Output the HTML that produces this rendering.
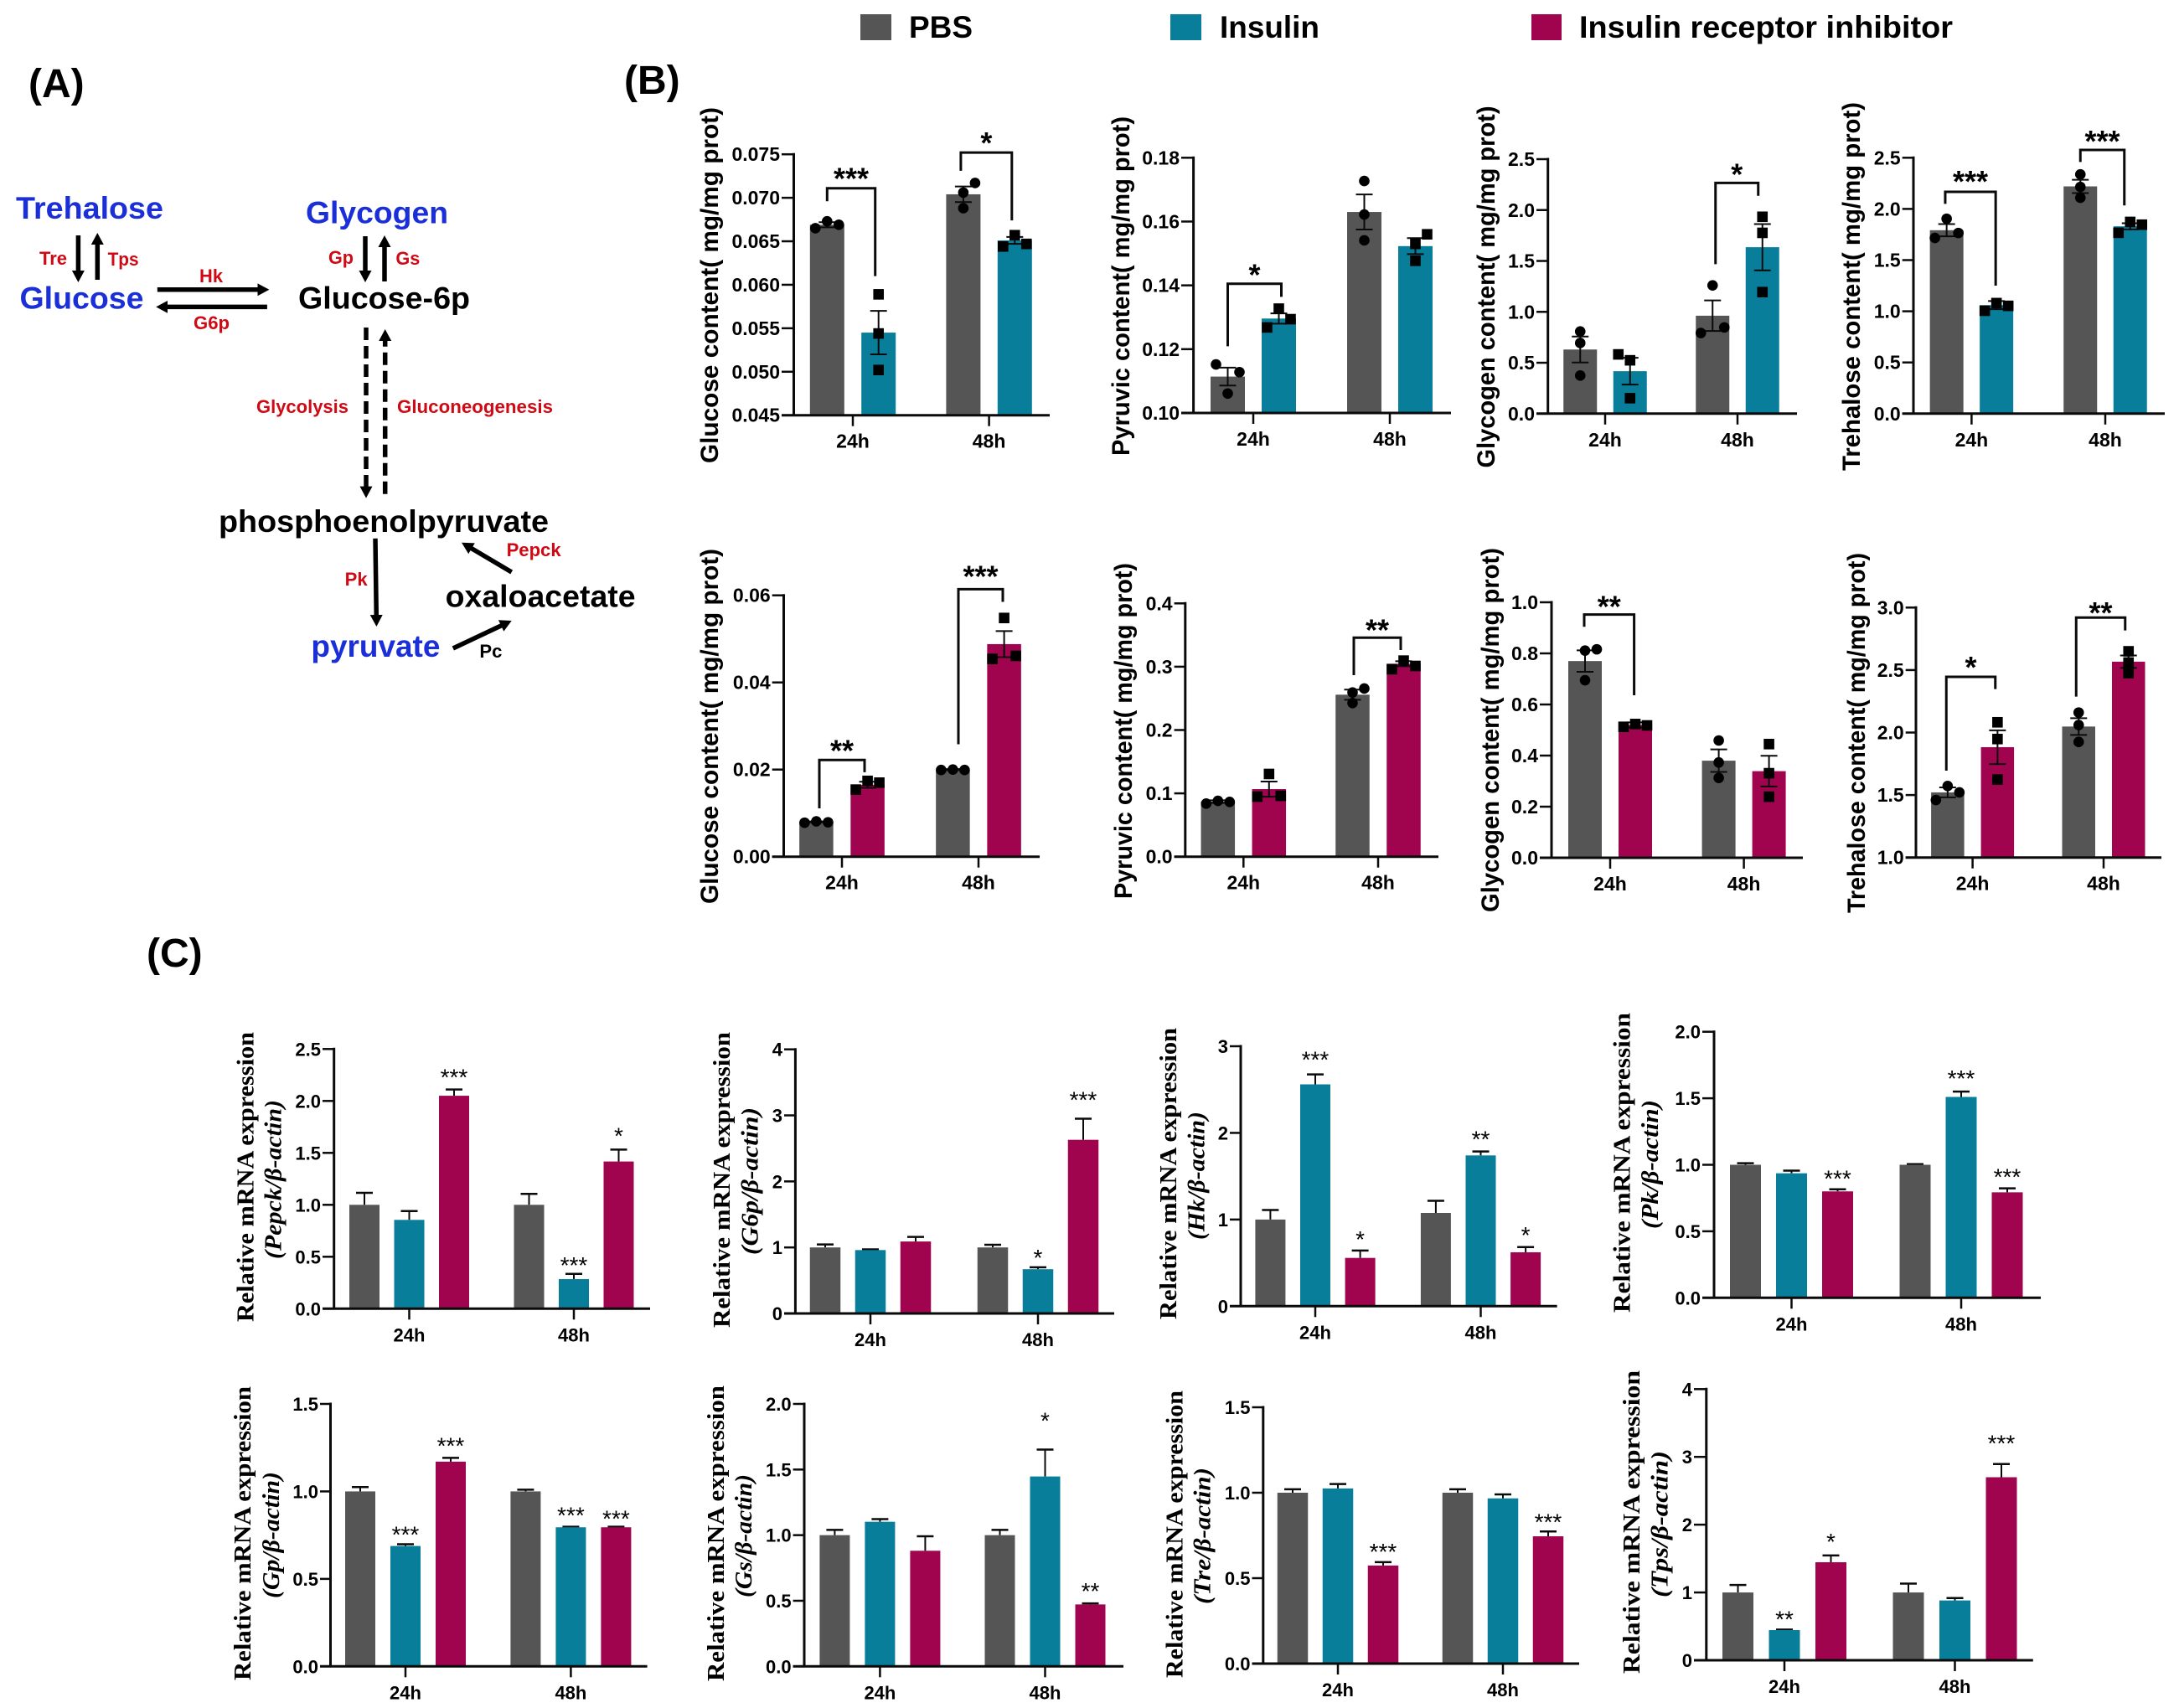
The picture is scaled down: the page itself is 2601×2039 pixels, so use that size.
<!DOCTYPE html>
<html lang="en">
<head>
<meta charset="utf-8">
<title>Glucose metabolism pathway and insulin signalling results</title>
<style>
html,body{margin:0;padding:0;background:#fff;}
svg{display:block;}
text{font-family:"Liberation Sans","Noto Sans CJK SC",sans-serif;font-weight:700;}
.serif{font-family:"Liberation Serif","Noto Serif CJK SC",serif;}
.blue{fill:#1a2fd8;font-size:37px;}
.blk{fill:#000;font-size:37px;}
.red{fill:#cf0a14;font-size:22px;}
.arrow{stroke:#000;stroke-width:5.5;fill:none;marker-end:url(#arrow-head);}
.dash{stroke-dasharray:15 7;}
</style>
</head>
<body>
<svg id="figure" xmlns="http://www.w3.org/2000/svg" width="2601" height="2039" viewBox="0 0 2601 2039">
<defs>
<marker id="arrow-head" markerUnits="userSpaceOnUse" markerWidth="18" markerHeight="18" refX="4" refY="8" orient="auto">
<path d="M0,0.5 L14,8 L0,15.5 Z" fill="#000"/>
</marker>
</defs>
<rect width="2601" height="2039" fill="#fff"/>

<g>
<rect x="1027" y="17" width="37" height="31" fill="#555555"/>
<text x="1085" y="45" font-size="37" textLength="76" lengthAdjust="spacingAndGlyphs">PBS</text>
<rect x="1397" y="17" width="37" height="31" fill="#087e9a"/>
<text x="1456" y="45" font-size="37" textLength="119" lengthAdjust="spacingAndGlyphs">Insulin</text>
<rect x="1828" y="17" width="36" height="31" fill="#a0044f"/>
<text x="1885" y="45" font-size="37" textLength="446" lengthAdjust="spacingAndGlyphs">Insulin receptor inhibitor</text>
</g>

<text x="34" y="116" font-size="48">(A)</text>
<text x="745" y="112" font-size="48">(B)</text>
<text x="175" y="1154" font-size="48">(C)</text>

<g>
<text class="blue" x="19" y="261" textLength="176" lengthAdjust="spacingAndGlyphs">Trehalose</text>
<text class="blue" x="23.5" y="368.6" textLength="148" lengthAdjust="spacingAndGlyphs">Glucose</text>
<text class="blue" x="365" y="266.7" textLength="170" lengthAdjust="spacingAndGlyphs">Glycogen</text>
<text class="blk" x="356" y="368.6" textLength="205" lengthAdjust="spacingAndGlyphs">Glucose-6p</text>
<text class="blk" x="261" y="635" textLength="394" lengthAdjust="spacingAndGlyphs">phosphoenolpyruvate</text>
<text class="blk" x="531.6" y="724.6" textLength="227" lengthAdjust="spacingAndGlyphs">oxaloacetate</text>
<text class="blue" x="371.4" y="784" textLength="154" lengthAdjust="spacingAndGlyphs">pyruvate</text>

<text class="red" x="47" y="316" textLength="33" lengthAdjust="spacingAndGlyphs">Tre</text>
<text class="red" x="128.6" y="317" textLength="37" lengthAdjust="spacingAndGlyphs">Tps</text>
<text class="red" x="238" y="337" textLength="28" lengthAdjust="spacingAndGlyphs">Hk</text>
<text class="red" x="231" y="393" textLength="43" lengthAdjust="spacingAndGlyphs">G6p</text>
<text class="red" x="392" y="315" textLength="30" lengthAdjust="spacingAndGlyphs">Gp</text>
<text class="red" x="472.4" y="316" textLength="29" lengthAdjust="spacingAndGlyphs">Gs</text>
<text class="red" x="306" y="493" textLength="110" lengthAdjust="spacingAndGlyphs">Glycolysis</text>
<text class="red" x="474" y="493" textLength="186" lengthAdjust="spacingAndGlyphs">Gluconeogenesis</text>
<text class="red" x="604.6" y="664" textLength="65" lengthAdjust="spacingAndGlyphs">Pepck</text>
<text class="red" x="411.7" y="699" textLength="27" lengthAdjust="spacingAndGlyphs">Pk</text>
<text x="572.4" y="785" font-size="22" textLength="27" lengthAdjust="spacingAndGlyphs">Pc</text>

<line class="arrow" x1="93.4" y1="281" x2="93.4" y2="327"/>
<line class="arrow" x1="116.3" y1="334" x2="116.3" y2="288"/>
<line class="arrow" x1="187.8" y1="345.8" x2="311.4" y2="345.8"/>
<line class="arrow" x1="318.9" y1="366.4" x2="196.2" y2="366.4"/>
<line class="arrow" x1="436" y1="282" x2="436" y2="327"/>
<line class="arrow" x1="459" y1="336" x2="459" y2="291"/>
<line class="arrow dash" x1="437" y1="391" x2="437" y2="584.6"/>
<line class="arrow dash" x1="459.7" y1="589.7" x2="459.7" y2="403"/>
<line class="arrow" x1="448" y1="642.8" x2="449.3" y2="738"/>
<line class="arrow" x1="610.7" y1="683" x2="559.6" y2="652.8"/>
<line class="arrow" x1="540.8" y1="774" x2="601.7" y2="745.3"/>
</g>

<g id="charts"></g>
</svg>

<script>
// ---------- shared categories ----------
const categories = ['24h', '48h'];

// ---------- Panel B, top row (PBS vs Insulin) ----------
const bGluInsTicks = ['0.045', '0.050', '0.055', '0.060', '0.065', '0.070', '0.075'];
const bGluInsPbs = [0.0669, 0.0704];
const bGluInsTreat = [0.0545, 0.0651];
const bGluInsPbsErr = [0.0003, 0.0009];
const bGluInsTreatErr = [0.0025, 0.0004];
const bGluInsPbsPts = [[0.0673, 0.0669, 0.0665], [0.0717, 0.0706, 0.0688]];
const bGluInsTreatPts = [[0.0589, 0.0544, 0.0502], [0.0657, 0.0647, 0.0644]];

const bPyrInsTicks = ['0.10', '0.12', '0.14', '0.16', '0.18'];
const bPyrInsPbs = [0.1114, 0.163];
const bPyrInsTreat = [0.1296, 0.1523];
const bPyrInsPbsErr = [0.0028, 0.0055];
const bPyrInsTreatErr = [0.0016, 0.0025];
const bPyrInsPbsPts = [[0.1152, 0.1128, 0.1061], [0.1727, 0.1622, 0.1541]];
const bPyrInsTreatPts = [[0.1327, 0.1294, 0.1268], [0.156, 0.153, 0.1477]];

const bGlyInsTicks = ['0.0', '0.5', '1.0', '1.5', '2.0', '2.5'];
const bGlyInsPbs = [0.63, 0.962];
const bGlyInsTreat = [0.417, 1.635];
const bGlyInsPbsErr = [0.128, 0.15];
const bGlyInsTreatErr = [0.132, 0.227];
const bGlyInsPbsPts = [[0.807, 0.694, 0.374], [1.26, 0.847, 0.792]];
const bGlyInsTreatPts = [[0.582, 0.524, 0.152], [1.934, 1.776, 1.194]];

const bTreInsTicks = ['0.0', '0.5', '1.0', '1.5', '2.0', '2.5'];
const bTreInsPbs = [1.792, 2.22];
const bTreInsTreat = [1.06, 1.83];
const bTreInsPbsErr = [0.06, 0.065];
const bTreInsTreatErr = [0.04, 0.03];
const bTreInsPbsPts = [[1.904, 1.765, 1.716], [2.337, 2.215, 2.109]];
const bTreInsTreatPts = [[1.08, 1.053, 1.005], [1.873, 1.846, 1.767]];

// ---------- Panel B, bottom row (PBS vs inhibitor) ----------
const bGluInhTicks = ['0.00', '0.02', '0.04', '0.06'];
const bGluInhPbs = [0.008, 0.02];
const bGluInhTreat = [0.0165, 0.0488];
const bGluInhPbsErr = [0.0001, 0.0001];
const bGluInhTreatErr = [0.0007, 0.003];
const bGluInhPbsPts = [[0.0081, 0.0079, 0.0078], [0.02, 0.0199, 0.0199]];
const bGluInhTreatPts = [[0.0174, 0.017, 0.0154], [0.0548, 0.0461, 0.0454]];

const bPyrInhTicks = ['0.0', '0.1', '0.2', '0.3', '0.4'];
const bPyrInhPbs = [0.087, 0.2558];
const bPyrInhTreat = [0.1067, 0.3047];
const bPyrInhPbsErr = [0.002, 0.008];
const bPyrInhTreatErr = [0.012, 0.004];
const bPyrInhPbsPts = [[0.0882, 0.0865, 0.0838], [0.2655, 0.2593, 0.2426]];
const bPyrInhTreatPts = [[0.1306, 0.0961, 0.0948], [0.3096, 0.3012, 0.296]];

const bGlyInhTicks = ['0.0', '0.2', '0.4', '0.6', '0.8', '1.0'];
const bGlyInhPbs = [0.77, 0.38];
const bGlyInhTreat = [0.52, 0.339];
const bGlyInhPbsErr = [0.042, 0.044];
const bGlyInhTreatErr = [0.01, 0.06];
const bGlyInhPbsPts = [[0.816, 0.811, 0.695], [0.459, 0.373, 0.3126]];
const bGlyInhTreatPts = [[0.5235, 0.518, 0.5125], [0.445, 0.331, 0.239]];

const bTreInhTicks = ['1.0', '1.5', '2.0', '2.5', '3.0'];
const bTreInhPbs = [1.521, 2.048];
const bTreInhTreat = [1.883, 2.567];
const bTreInhPbsErr = [0.04, 0.067];
const bTreInhTreatErr = [0.135, 0.05];
const bTreInhPbsPts = [[1.572, 1.521, 1.46], [2.16, 2.06, 1.925]];
const bTreInhTreatPts = [[2.082, 1.948, 1.624], [2.65, 2.56, 2.475]];

// ---------- Panel C (relative mRNA expression) ----------
const cPepckTicks = ['0.0', '0.5', '1.0', '1.5', '2.0', '2.5'];
const cPepckPbs = [1.0, 1.0];
const cPepckIns = [0.855, 0.285];
const cPepckInh = [2.05, 1.417];
const cPepckPbsErr = [0.115, 0.105];
const cPepckInsErr = [0.085, 0.05];
const cPepckInhErr = [0.06, 0.115];
const cPepckStars = [['', '', '***'], ['', '***', '*']];

const cG6pTicks = ['0', '1', '2', '3', '4'];
const cG6pPbs = [1.0, 1.0];
const cG6pIns = [0.96, 0.67];
const cG6pInh = [1.09, 2.63];
const cG6pPbsErr = [0.045, 0.04];
const cG6pInsErr = [0.01, 0.03];
const cG6pInhErr = [0.07, 0.32];
const cG6pStars = [['', '', ''], ['', '*', '***']];

const cHkTicks = ['0', '1', '2', '3'];
const cHkPbs = [1.0, 1.076];
const cHkIns = [2.56, 1.74];
const cHkInh = [0.557, 0.622];
const cHkPbsErr = [0.11, 0.14];
const cHkInsErr = [0.115, 0.045];
const cHkInhErr = [0.085, 0.06];
const cHkStars = [['', '***', '*'], ['', '**', '*']];

const cPkTicks = ['0.0', '0.5', '1.0', '1.5', '2.0'];
const cPkPbs = [1.0, 1.0];
const cPkIns = [0.936, 1.51];
const cPkInh = [0.8, 0.793];
const cPkPbsErr = [0.012, 0.005];
const cPkInsErr = [0.02, 0.04];
const cPkInhErr = [0.016, 0.03];
const cPkStars = [['', '', '***'], ['', '***', '***']];

const cGpTicks = ['0.0', '0.5', '1.0', '1.5'];
const cGpPbs = [1.0, 1.0];
const cGpIns = [0.688, 0.795];
const cGpInh = [1.17, 0.795];
const cGpPbsErr = [0.025, 0.01];
const cGpInsErr = [0.01, 0.003];
const cGpInhErr = [0.022, 0.003];
const cGpStars = [['', '***', '***'], ['', '***', '***']];

const cGsTicks = ['0.0', '0.5', '1.0', '1.5', '2.0'];
const cGsPbs = [1.0, 1.0];
const cGsIns = [1.102, 1.447];
const cGsInh = [0.881, 0.472];
const cGsPbsErr = [0.04, 0.04];
const cGsInsErr = [0.02, 0.205];
const cGsInhErr = [0.11, 0.008];
const cGsStars = [['', '', ''], ['', '*', '**']];

const cTreTicks = ['0.0', '0.5', '1.0', '1.5'];
const cTrePbs = [1.0, 1.0];
const cTreIns = [1.025, 0.967];
const cTreInh = [0.574, 0.745];
const cTrePbsErr = [0.02, 0.02];
const cTreInsErr = [0.026, 0.023];
const cTreInhErr = [0.02, 0.028];
const cTreStars = [['', '', '***'], ['', '', '***']];

const cTpsTicks = ['0', '1', '2', '3', '4'];
const cTpsPbs = [1.0, 1.0];
const cTpsIns = [0.445, 0.882];
const cTpsInh = [1.446, 2.7];
const cTpsPbsErr = [0.11, 0.13];
const cTpsInsErr = [0.008, 0.035];
const cTpsInhErr = [0.1, 0.195];
const cTpsStars = [['', '**', '*'], ['', '', '***']];

// ---------- drawing ----------
const NS = 'http://www.w3.org/2000/svg';
const GRAY = '#555555', TEAL = '#087e9a', MAG = '#a0044f', INK = '#0a0a0a';
const root = document.getElementById('charts');

function mk(tag, name, attrs, parent, text) {
  const el = document.createElementNS(NS, tag);
  
  
  for (const k in attrs) el.setAttribute(k, attrs[k]);
  if (text !== undefined) el.textContent = text;
  parent.appendChild(el);
  return el;
}
function vline(name, x, y1, y2, w, p) { return mk('line', name, {x1:x, x2:x, y1:y1, y2:y2, stroke:INK, 'stroke-width':w}, p); }
function hline(name, x1, x2, y, w, p) { return mk('line', name, {x1:x1, x2:x2, y1:y, y2:y, stroke:INK, 'stroke-width':w}, p); }

function axes(id, L, ticks, fs, p, yFn) {
  vline(id + '-y-axis', L.ax, L.top - 1.5, L.bot, 3, p);
  hline(id + '-x-axis', L.tl, L.xEnd, L.bot, 3, p);
  ticks.forEach(function (t) {
    const y = yFn(parseFloat(t));
    hline(id + '-y-tick', L.tl, L.ax, y, 2.5, p);
    mk('text', id + '-y-tick-label', {x:L.tl - 2, y:y + 8, 'text-anchor':'end', 'font-size':fs}, p, t);
  });
  categories.forEach(function (c, g) {
    vline(id + '-x-tick', L.g[g], L.bot, L.bot + 13, 2.5, p);
    mk('text', id + '-x-tick-label', {x:L.g[g], y:L.bot + 39, 'text-anchor':'middle', 'font-size':fs}, p, c);
  });
}
function vtext(name, T, size, cls, italic, p) {
  const yc = (T[1] + T[2]) / 2;
  const a = {x:T[0], y:yc, 'text-anchor':'middle', 'font-size':size,
             transform:'rotate(-90 ' + T[0] + ' ' + yc + ')',
             textLength:T[2] - T[1], lengthAdjust:'spacingAndGlyphs'};
  if (cls) a['class'] = cls;
  if (italic) a['font-style'] = 'italic';
  return mk('text', name, a, p, T[3]);
}

function drawB(L, ticks, names, colors, vals, errs, pts) {
  const p = mk('g', 'chart-' + L.id, {}, root);
  const min = parseFloat(ticks[0]), max = parseFloat(ticks[ticks.length - 1]);
  const y = function (v) { return L.bot - (v - min) / (max - min) * (L.bot - L.top); };
  const bx = function (g, s) { return L.g[g] + (s - 0.5) * L.pitch; };
  vals.forEach(function (series, s) {
    series.forEach(function (v, g) {
      mk('rect', 'bar-' + names[s] + '-' + categories[g], {x:bx(g, s) - L.bw / 2, y:y(v), width:L.bw, height:L.bot - y(v), fill:colors[s]}, p);
    });
  });
  axes(L.id, L, ticks, 23, p, y);
  vals.forEach(function (series, s) {
    series.forEach(function (v, g) {
      const x = bx(g, s), e = errs[s][g];
      vline('error-bar', x, y(v + e), y(v - e), 2, p);
      hline('error-cap', x - 10, x + 10, y(v + e), 2, p);
      hline('error-cap', x - 10, x + 10, y(v - e), 2, p);
      pts[s][g].forEach(function (val, i) {
        const px = x + L.slots[s][g][i] * 14;
        if (s === 0) {
          mk('ellipse', 'point-' + names[s], {cx:px, cy:y(val), rx:6.3, ry:6.3, fill:'#000'}, p);
        } else {
          mk('rect', 'point-' + names[s], {x:px - 6.3, y:y(val) - 6.3, width:12.6, height:12.6, fill:'#000'}, p);
        }
      });
    });
  });
  L.brackets.forEach(function (b) {
    const x1 = bx(b.g, 0) + b.dl, x2 = bx(b.g, 1) + b.dr;
    mk('polyline', 'significance-bracket', {points:[x1, y(b.lb), x1, y(b.top), x2, y(b.top), x2, y(b.rb)].join(' '), fill:'none', stroke:INK, 'stroke-width':3}, p);
    mk('text', 'significance-label', {x:(x1 + x2) / 2, y:y(b.top) - b.gap + 20, 'text-anchor':'middle', 'font-size':36}, p, b.label);
  });
  vtext('y-axis-title', L.title, 30, null, false, p);
}

function drawC(L, ticks, vals, errs, stars) {
  const names = ['pbs', 'insulin', 'inhibitor'], colors = [GRAY, TEAL, MAG];
  const p = mk('g', 'chart-' + L.id, {}, root);
  const min = parseFloat(ticks[0]), max = parseFloat(ticks[ticks.length - 1]);
  const y = function (v) { return L.bot - (v - min) / (max - min) * (L.bot - L.top); };
  const bx = function (g, s) { return L.g[g] + (s - 1) * L.pitch; };
  vals.forEach(function (series, s) {
    series.forEach(function (v, g) {
      const x = bx(g, s), topE = y(v + errs[s][g]);
      vline('error-bar', x, topE, y(v), 2, p);
      hline('error-cap', x - 10, x + 10, topE, 2.5, p);
      mk('rect', 'bar-' + names[s] + '-' + categories[g], {x:x - L.bw / 2, y:y(v), width:L.bw, height:L.bot - y(v), fill:colors[s]}, p);
      if (stars[g][s]) {
        mk('text', 'significance-label', {x:x, y:topE - L.gaps[g][s] + 15, 'text-anchor':'middle', 'font-size':28, style:'font-weight:400'}, p, stars[g][s]);
      }
    });
  });
  axes(L.id, L, ticks, 22, p, y);
  vtext('y-axis-title-line-1', L.l1, 29, 'serif', false, p);
  vtext('y-axis-title-line-2', L.l2, 29, 'serif', true, p);
}

// swarm slots for the three replicates: -1 left, 0 centre, 1 right
const Z = [0, 0, 0], T = [0, 1, -1], R = [1, 0, 0], V = [-1, 1, 0], Q = [-1, 0, 0];

// ---------- Panel B layouts and calls ----------
const insNames = ['pbs', 'insulin'], inhNames = ['pbs', 'inhibitor'];
const insCol = [GRAY, TEAL], inhCol = [GRAY, MAG];

drawB({id:'glucose-insulin', ax:947.5, top:184.2, bot:495.7, xEnd:1253, tl:933, g:[1018, 1180.6], pitch:61.4, bw:41,
  slots:[[T, R], [Z, T]],
  title:[857, 128, 553, 'Glucose content( mg/mg prot)'],
  brackets:[{g:0, top:0.0711, lb:0.0696, rb:0.061, label:'***', gap:19, dl:0, dr:-4},
            {g:1, top:0.0752, lb:0.0731, rb:0.0674, label:'*', gap:19, dl:-3, dr:-3.5}]},
  bGluInsTicks, insNames, insCol, [bGluInsPbs, bGluInsTreat], [bGluInsPbsErr, bGluInsTreatErr], [bGluInsPbsPts, bGluInsTreatPts]);

drawB({id:'pyruvic-insulin', ax:1424.6, top:188.3, bot:493, xEnd:1732, tl:1410, g:[1496, 1659], pitch:61, bw:41,
  slots:[[V, Z], [T, R]],
  title:[1348, 139, 544, 'Pyruvic content( mg/mg prot)'],
  brackets:[{g:0, top:0.1405, lb:0.1209, rb:0.1364, label:'*', gap:18, dl:0, dr:3}]},
  bPyrInsTicks, insNames, insCol, [bPyrInsPbs, bPyrInsTreat], [bPyrInsPbsErr, bPyrInsTreatErr], [bPyrInsPbsPts, bPyrInsTreatPts]);

drawB({id:'glycogen-insulin', ax:1847.7, top:190, bot:493.8, xEnd:2145, tl:1834, g:[1916, 2074], pitch:59.5, bw:40,
  slots:[[Z, T], [Q, Z]],
  title:[1784, 126.5, 558.5, 'Glycogen content( mg/mg prot)'],
  brackets:[{g:1, top:2.266, lb:1.468, rb:2.14, label:'*', gap:18, dl:3.5, dr:-5}]},
  bGlyInsTicks, insNames, insCol, [bGlyInsPbs, bGlyInsTreat], [bGlyInsPbsErr, bGlyInsTreatErr], [bGlyInsPbsPts, bGlyInsTreatPts]);

drawB({id:'trehalose-insulin', ax:2284, top:188.3, bot:493.8, xEnd:2584, tl:2270.7, g:[2353.4, 2513], pitch:59.5, bw:40,
  slots:[[T, Z], [T, T]],
  title:[2220, 122, 562, 'Trehalose content( mg/mg prot)'],
  brackets:[{g:0, top:2.167, lb:2.049, rb:1.25, label:'***', gap:20, dl:-1.7, dr:-1},
            {g:1, top:2.576, lb:2.458, rb:2.034, label:'***', gap:18, dl:0, dr:-7}]},
  bTreInsTicks, insNames, insCol, [bTreInsPbs, bTreInsTreat], [bTreInsPbsErr, bTreInsTreatErr], [bTreInsPbsPts, bTreInsTreatPts]);

drawB({id:'glucose-inhibitor', ax:935.5, top:710.7, bot:1022.7, xEnd:1241, tl:921.7, g:[1005, 1168], pitch:61.2, bw:40.5,
  slots:[[T, T], [T, T]],
  title:[857, 655, 1079, 'Glucose content( mg/mg prot)'],
  brackets:[{g:0, top:0.0222, lb:0.0111, rb:0.0194, label:'**', gap:19, dl:3.6, dr:-3.6},
            {g:1, top:0.0614, lb:0.0258, rb:0.0585, label:'***', gap:23, dl:6.6, dr:-1.6}]},
  bGluInhTicks, inhNames, inhCol, [bGluInhPbs, bGluInhTreat], [bGluInhPbsErr, bGluInhTreatErr], [bGluInhPbsPts, bGluInhTreatPts]);

drawB({id:'pyruvic-inhibitor', ax:1414.8, top:720.3, bot:1022.7, xEnd:1717, tl:1401.6, g:[1484.3, 1645], pitch:61, bw:40.5,
  slots:[[T, R], [T, T]],
  title:[1351, 672, 1073, 'Pyruvic content( mg/mg prot)'],
  brackets:[{g:1, top:0.3458, lb:0.2867, rb:0.3264, label:'**', gap:17, dl:1.5, dr:-3.5}]},
  bPyrInhTicks, inhNames, inhCol, [bPyrInhPbs, bPyrInhTreat], [bPyrInhPbsErr, bPyrInhTreatErr], [bPyrInhPbsPts, bPyrInhTreatPts]);

drawB({id:'glycogen-inhibitor', ax:1852, top:719, bot:1024, xEnd:2152, tl:1838, g:[1922, 2081.6], pitch:60, bw:40,
  slots:[[R, Z], [T, Z]],
  title:[1789, 654, 1089, 'Glycogen content( mg/mg prot)'],
  brackets:[{g:0, top:0.952, lb:0.904, rb:0.636, label:'**', gap:17, dl:-1, dr:-1.4}]},
  bGlyInhTicks, inhNames, inhCol, [bGlyInhPbs, bGlyInhTreat], [bGlyInhPbsErr, bGlyInhTreatErr], [bGlyInhPbsPts, bGlyInhTreatPts]);

drawB({id:'trehalose-inhibitor', ax:2287, top:725.3, bot:1023.7, xEnd:2580, tl:2274.7, g:[2354.6, 2511], pitch:59.5, bw:39.5,
  slots:[[T, Z], [Z, Z]],
  title:[2226, 660, 1090, 'Trehalose content( mg/mg prot)'],
  brackets:[{g:0, top:2.446, lb:1.695, rb:2.348, label:'*', gap:19, dl:-1.6, dr:-2.6},
            {g:1, top:2.92, lb:2.287, rb:2.817, label:'**', gap:13, dl:-3, dr:-4}]},
  bTreInhTicks, inhNames, inhCol, [bTreInhPbs, bTreInhTreat], [bTreInhPbsErr, bTreInhTreatErr], [bTreInhPbsPts, bTreInhTreatPts]);

// ---------- Panel C layouts and calls ----------
const relLabel = 'Relative mRNA expression';

drawC({id:'pepck-expression', ax:398.7, top:1252.3, bot:1562.3, xEnd:776, tl:385, g:[488.5, 685], pitch:53.5, bw:36,
  gaps:[[0, 0, 20], [0, 16, 22]],
  l1:[302.6, 1232, 1578, relLabel], l2:[335.6, 1313, 1503, '(Pepck/β-actin)']},
  cPepckTicks, [cPepckPbs, cPepckIns, cPepckInh], [cPepckPbsErr, cPepckInsErr, cPepckInhErr], cPepckStars);

drawC({id:'g6p-expression', ax:949.4, top:1252.7, bot:1568, xEnd:1330, tl:936, g:[1039, 1239], pitch:54, bw:36.5,
  gaps:[[0, 0, 0], [0, 17, 28]],
  l1:[871, 1232, 1585, relLabel], l2:[904.5, 1322, 1498, '(G6p/β-actin)']},
  cG6pTicks, [cG6pPbs, cG6pIns, cG6pInh], [cG6pPbsErr, cG6pInsErr, cG6pInhErr], cG6pStars);

drawC({id:'hk-expression', ax:1481, top:1249, bot:1559.3, xEnd:1858.6, tl:1468, g:[1570, 1767.5], pitch:53.6, bw:36,
  gaps:[[0, 23, 19], [0, 20, 20]],
  l1:[1404, 1227, 1575, relLabel], l2:[1437.7, 1327, 1480, '(Hk/β-actin)']},
  cHkTicks, [cHkPbs, cHkIns, cHkInh], [cHkPbsErr, cHkInsErr, cHkInhErr], cHkStars);

drawC({id:'pk-expression', ax:2046, top:1231.7, bot:1549.3, xEnd:2436, tl:2032, g:[2138.5, 2341], pitch:55, bw:37,
  gaps:[[0, 0, 18], [0, 21, 19]],
  l1:[1945.6, 1209, 1567, relLabel], l2:[1979, 1313, 1467, '(Pk/β-actin)']},
  cPkTicks, [cPkPbs, cPkIns, cPkInh], [cPkPbsErr, cPkInsErr, cPkInhErr], cPkStars);

drawC({id:'gp-expression', ax:394.5, top:1676, bot:1989.3, xEnd:772.6, tl:382, g:[484, 681.4], pitch:54, bw:36,
  gaps:[[0, 17, 20], [0, 19, 15]],
  l1:[299, 1655, 2006, relLabel], l2:[332.8, 1757, 1908, '(Gp/β-actin)']},
  cGpTicks, [cGpPbs, cGpIns, cGpInh], [cGpPbsErr, cGpInsErr, cGpInhErr], cGpStars);

drawC({id:'gs-expression', ax:960, top:1676, bot:1989.3, xEnd:1341, tl:946.6, g:[1050.4, 1247.5], pitch:54, bw:36,
  gaps:[[0, 0, 0], [0, 40, 20]],
  l1:[863.8, 1654, 2007, relLabel], l2:[896.8, 1760, 1907, '(Gs/β-actin)']},
  cGsTicks, [cGsPbs, cGsIns, cGsInh], [cGsPbsErr, cGsInsErr, cGsInhErr], cGsStars);

drawC({id:'tre-expression', ax:1507.8, top:1680, bot:1986, xEnd:1885, tl:1494.5, g:[1597, 1794], pitch:54, bw:36.5,
  gaps:[[0, 0, 18], [0, 0, 17]],
  l1:[1411.7, 1660, 2003, relLabel], l2:[1444.7, 1752, 1915, '(Tre/β-actin)']},
  cTreTicks, [cTrePbs, cTreIns, cTreInh], [cTrePbsErr, cTreInsErr, cTreInhErr], cTreStars);

drawC({id:'tps-expression', ax:2036.8, top:1658.3, bot:1982, xEnd:2426.8, tl:2022, g:[2130, 2333.5], pitch:55.5, bw:37,
  gaps:[[0, 18, 22], [0, 0, 30]],
  l1:[1956.8, 1636, 1998, relLabel], l2:[1990.5, 1732, 1907, '(Tps/β-actin)']},
  cTpsTicks, [cTpsPbs, cTpsIns, cTpsInh], [cTpsPbsErr, cTpsInsErr, cTpsInhErr], cTpsStars);
</script>
</body>
</html>
